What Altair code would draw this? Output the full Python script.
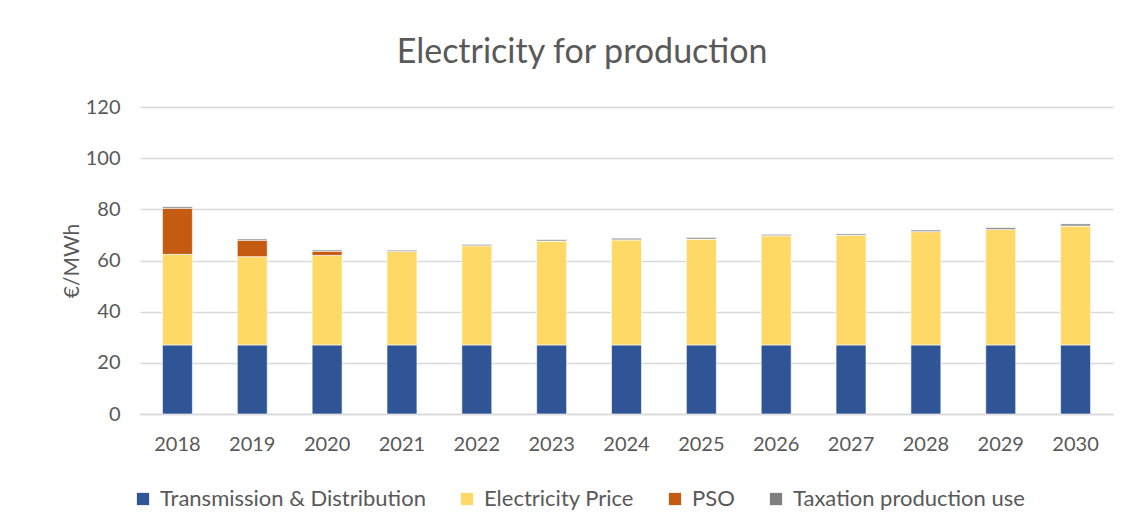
import altair as alt
import pandas as pd

years = ["2018", "2019", "2020", "2021", "2022", "2023", "2024", "2025", "2026", "2027", "2028", "2029", "2030"]
transmission = [27.0] * 13
electricity_price = [35.4, 34.5, 35.0, 36.5, 38.8, 40.6, 41.1, 41.4, 42.7, 42.9, 44.3, 45.1, 46.5]
pso = [18.0, 6.4, 1.6, 0, 0, 0, 0, 0, 0, 0, 0, 0, 0]
taxation = [0.6, 0.5, 0.5, 0.5, 0.5, 0.5, 0.6, 0.6, 0.5, 0.5, 0.6, 0.7, 0.8]

series_names = ["Transmission & Distribution", "Electricity Price", "PSO", "Taxation production use"]
series_colors = ["#2F5597", "#FFD966", "#C55A11", "#7F7F7F"]
series_values = [transmission, electricity_price, pso, taxation]

rows = []
for si, (name, vals) in enumerate(zip(series_names, series_values)):
    for y, v in zip(years, vals):
        rows.append({"Year": y, "Series": name, "Value": v, "Order": si})
df = pd.DataFrame(rows)

font = "Lato"
txt = "#595959"

chart = alt.Chart(df).mark_bar(stroke="white", strokeWidth=0.6).encode(
    x=alt.X("Year:N", sort=years,
            scale=alt.Scale(paddingInner=0.6, paddingOuter=0.3),
            axis=alt.Axis(title=None, labelAngle=0, labelFontSize=20, labelColor=txt,
                          labelFont=font, labelPadding=20, ticks=False,
                          domainColor="#D9D9D9", domainWidth=1.5)),
    y=alt.Y("Value:Q", stack="zero",
            scale=alt.Scale(domain=[0, 120]),
            axis=alt.Axis(title="€/MWh", values=[0, 20, 40, 60, 80, 100, 120],
                          labelFontSize=20, labelColor=txt, labelFont=font,
                          labelPadding=20, ticks=False, domain=False,
                          gridColor="#D9D9D9", gridWidth=1.5,
                          titleFontSize=21, titleColor=txt, titleFont=font,
                          titleFontWeight="normal", titlePadding=3)),
    color=alt.Color("Series:N", sort=series_names,
                    scale=alt.Scale(domain=series_names, range=series_colors),
                    legend=alt.Legend(title=None, orient="none", direction="horizontal",
                                      legendX=-8, legendY=381, symbolType="square",
                                      symbolSize=150, symbolStrokeWidth=0,
                                      labelFontSize=22, labelColor=txt, labelFont=font,
                                      labelLimit=0, columnPadding=30, labelOffset=6)),
    order=alt.Order("Order:Q", sort="ascending"),
).properties(
    width=973, height=307,
    title=alt.TitleParams("Electricity for production", fontSize=34, font=font,
                          color=txt, fontWeight="normal", anchor="middle",
                          frame="bounds", offset=27, dx=-5),
    autosize=alt.AutoSizeParams(type="none"),
    padding={"left": 132, "top": 99, "right": 20, "bottom": 100},
).configure(background="white").configure_view(stroke=None)

chart.save("out.html", embed_options={"renderer": "svg", "actions": False})
